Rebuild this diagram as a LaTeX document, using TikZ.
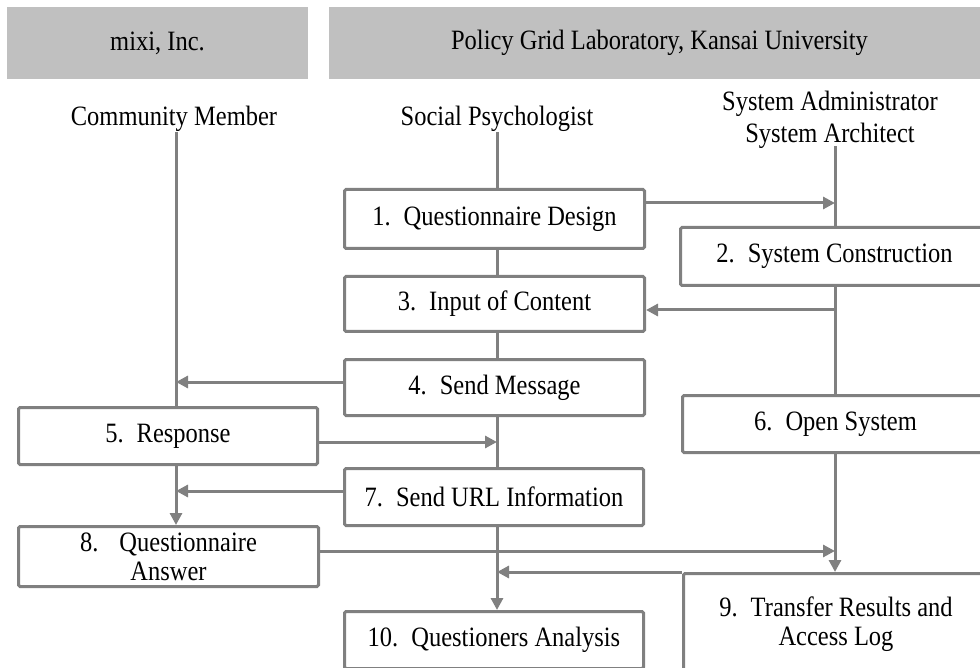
\documentclass[tikz,border=0pt]{standalone}
\usepackage{fontspec}
\setmainfont{Liberation Serif}[FakeStretch=0.875]
\usetikzlibrary{arrows.meta}
\definecolor{lanegray}{HTML}{808080}
\definecolor{headgray}{HTML}{C0C0C0}
\newcommand{\stepno}[1]{#1.\hspace{13pt}}
\begin{document}
\begin{tikzpicture}[x=1pt,y=-1pt,
  txt/.style={font=\fontsize{28}{29}\selectfont},
  box/.style={txt, draw=lanegray, line width=3pt, rounded corners=1.5pt,
    fill=white, inner sep=0pt, align=center},
  head/.style={txt, fill=headgray, inner sep=0pt},
  lane/.style={draw=lanegray, line width=3pt},
  arr/.style={lane, -{Triangle[length=12pt,width=12pt]}}
]
\useasboundingbox (0,0) rectangle (980,668);

% organisation headers
\node[head, minimum width=301pt, minimum height=72pt] (h1) at (157.5,43) {mixi, Inc.};
\node[head, minimum width=661pt, minimum height=72pt] (h2) at (659.5,43) {Policy Grid Laboratory, Kansai University};

% process steps
\node[box, minimum width=300pt, minimum height=59pt] (b1) at (494.5,219) {\stepno{1}Questionnaire Design};
\node[box, minimum width=308pt, minimum height=58pt] (b2) at (834.5,256.5) {\stepno{2}System Construction};
\node[box, minimum width=300pt, minimum height=55pt] (b3) at (494.5,304) {\stepno{3}Input of Content};
\node[box, minimum width=300pt, minimum height=56pt] (b4) at (494.5,387.5) {\stepno{4}Send Message};
\node[box, minimum width=299pt, minimum height=57pt] (b5) at (168,436) {\stepno{5}Response};
\node[box, minimum width=306pt, minimum height=57pt] (b6) at (835.5,424) {\stepno{6}Open System};
\node[box, minimum width=299pt, minimum height=57pt] (b7) at (494,497) {\stepno{7}Send URL Information};
\node[box, minimum width=300pt, minimum height=60pt] (b8) at (168.5,556.5) {8.\hspace{21pt}Questionnaire\\Answer};
\node[box, minimum width=305pt, minimum height=101pt] (b9) at (836,624) {\stepno{9}Transfer Results and\\Access Log};
\node[box, minimum width=299pt, minimum height=57pt] (b10) at (494,640) {\stepno{10}Questioners Analysis};

% lane tops
\coordinate (A) at (176,132);
\coordinate (B) at (497,132);
\coordinate (C) at (835,146);

% community member lane
\draw[lane] (A) -- (A |- b5.north);
\draw[arr] (A |- b5.south) -- (A |- b8.north);
% social psychologist lane
\draw[lane] (B) -- (B |- b1.north);
\draw[lane] (B |- b1.south) -- (B |- b3.north);
\draw[lane] (B |- b3.south) -- (B |- b4.north);
\draw[lane] (B |- b4.south) -- (B |- b7.north);
\draw[arr] (B |- b7.south) -- (B |- b10.north);
% administrator / architect lane
\draw[lane] (C) -- (C |- b2.north);
\draw[lane] (C |- b2.south) -- (C |- b6.north);
\draw[arr] (C |- b6.south) -- (C |- b9.north);

% hand-overs between lanes
\draw[arr] (b1.east |- 0,203) -- (C |- 0,203);
\draw[arr] (C |- 0,310) -- (b3.east |- 0,310);
\draw[arr] (b4.west |- 0,382) -- (A |- 0,382);
\draw[arr] (b5.east |- 0,442) -- (B |- 0,442);
\draw[arr] (b7.west |- 0,491) -- (A |- 0,491);
\draw[arr] (b8.east |- 0,551) -- (C |- 0,551);
\draw[arr] (b9.north west) -- (B |- b9.north);

% role labels
\node[txt, inner sep=0pt] (cm) at (174,119) {Community Member};
\node[txt, inner sep=0pt] (sp) at (497,119) {Social Psychologist};
\node[txt, inner sep=0pt, align=center, font=\fontsize{28}{32}\selectfont] (sa) at (830,120) {System Administrator\\System Architect};
\end{tikzpicture}
\end{document}
